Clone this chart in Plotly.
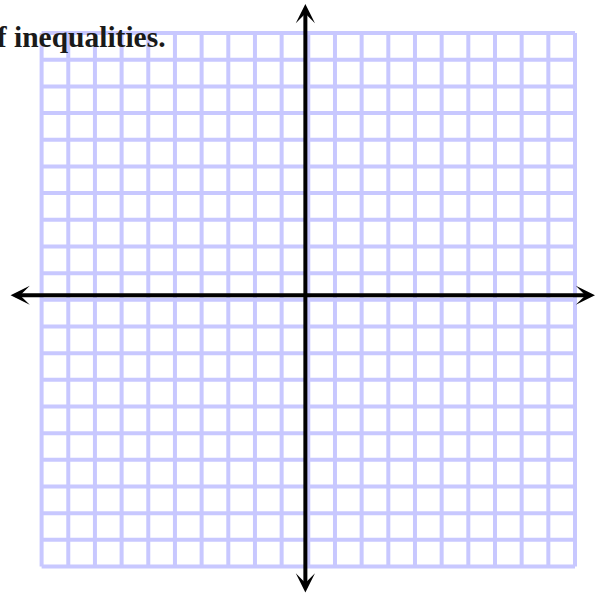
import plotly.graph_objects as go

# grid coordinates (one unit per square), -10 .. 10 on both axes
grid_ticks = list(range(-10, 11))
grid_min, grid_max = -10, 10

# where the drawn axis arrows start/end (in grid units)
x_axis_ends = [-11.22, 10.75]
y_axis_ends = [-11.03, 11.09]
x_axis_level = 0.17   # the black axes sit a little off the centre grid line
y_axis_level = -0.11

caption = "of inequalities."

W = H = 597
unit = 26.67
cx, cy = 308.3, 299.8   # pixel position of grid origin

# grid lines as one trace, segments separated by None
gx, gy = [], []
for v in grid_ticks:
    gx += [v, v, None]
    gy += [grid_min, grid_max, None]
    gx += [grid_min, grid_max, None]
    gy += [v, v, None]

fig = go.Figure()
fig.add_trace(go.Scatter(x=gx, y=gy, mode="lines",
                         line=dict(color="#c8c8ff", width=4),
                         hoverinfo="skip", showlegend=False))

# black axes with arrow heads on both ends
arrow_style = dict(xref="x", yref="y", axref="x", ayref="y", text="",
                   showarrow=True, arrowside="end+start", arrowhead=3, startarrowhead=3,
                   arrowwidth=4, arrowsize=0.8, startarrowsize=0.8, arrowcolor="black",
                   standoff=0, startstandoff=0)
fig.add_annotation(x=x_axis_ends[1], y=x_axis_level, ax=x_axis_ends[0], ay=x_axis_level,
                   **arrow_style)
fig.add_annotation(x=y_axis_level, y=y_axis_ends[1], ax=y_axis_level, ay=y_axis_ends[0],
                   **arrow_style)

# cut-off caption from the worksheet
fig.add_annotation(x=168 / W, y=1 - 37 / H, xref="paper", yref="paper",
                   xanchor="right", yanchor="middle", showarrow=False,
                   text=caption,
                   font=dict(family="Liberation Serif", size=29.5, color="#1a1a1a",
                             weight="bold"))

fig.update_xaxes(range=[(0 - cx) / unit, (W - cx) / unit], visible=False,
                 showgrid=False, zeroline=False)
fig.update_yaxes(range=[(cy - H) / unit, cy / unit], visible=False,
                 showgrid=False, zeroline=False)
fig.update_layout(width=W, height=H, margin=dict(l=0, r=0, t=0, b=0),
                  plot_bgcolor="white", paper_bgcolor="white")

# page body has a default 8px margin; drop it so the figure fills the window
fig.write_html("out.html", config={"displayModeBar": False},
               post_script="document.body.style.margin='0';")
